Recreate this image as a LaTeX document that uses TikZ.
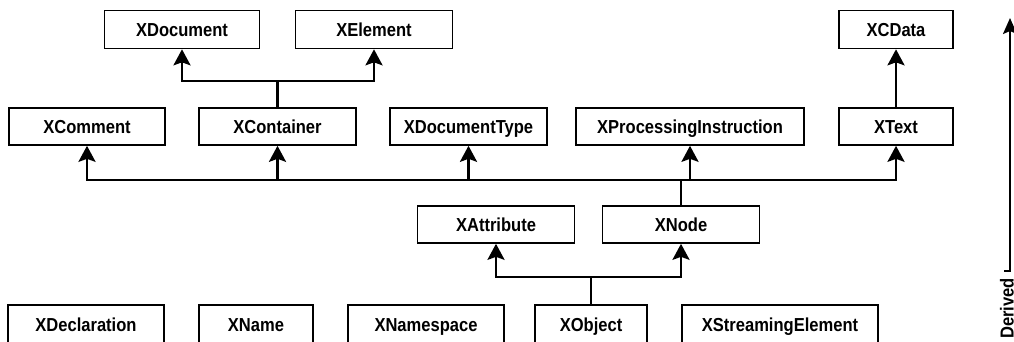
\documentclass[tikz,border=0pt]{standalone}
\usepackage{fontspec}
\setmainfont{Liberation Sans}
\newfontfamily\boxfont[FakeStretch=0.88]{Liberation Sans}
\usetikzlibrary{arrows.meta}

\begin{document}
\begin{tikzpicture}[x=1pt, y=-1pt]
    \tikzset{
        box/.style={draw, line width=1.6pt, minimum height=38pt, inner sep=0pt,
            text height=13.5pt, text depth=0pt, font=\boxfont\fontsize{18.8}{20}\selectfont\bfseries},
        link/.style={line width=2.6pt},
        arr/.style={link, -{Stealth[length=16pt, width=17pt, inset=3pt]}}
    }
    \useasboundingbox (0,0) rectangle (1014,341);
    % top row
    \node[box, minimum width=155pt] (doc) at (182,29.5) {XDocument};
    \node[box, minimum width=157pt] (elem) at (374,29.5) {XElement};
    \node[box, minimum width=114pt] (cdata) at (896,29.5) {XCData};
    % second row
    \node[box, minimum width=156pt, minimum height=37pt] (comment) at (87,126.5) {XComment};
    \node[box, minimum width=157pt, minimum height=37pt] (container) at (277.5,126.5) {XContainer};
    \node[box, minimum width=157pt, minimum height=37pt] (doctype) at (468.5,126.5) {XDocumentType};
    \node[box, minimum width=228pt, minimum height=37pt] (pi) at (690,126.5) {XProcessingInstruction};
    \node[box, minimum width=114pt, minimum height=37pt] (text) at (896,126.5) {XText};
    % third row
    \node[box, minimum width=157pt, minimum height=37pt] (attr) at (496,224.5) {XAttribute};
    \node[box, minimum width=157pt, minimum height=37pt] (xnode) at (681,224.5) {XNode};
    % bottom row
    \node[box, minimum width=156pt, minimum height=39pt, anchor=north] (decl) at (86,304) {XDeclaration};
    \node[box, minimum width=114pt, minimum height=39pt, anchor=north] (name) at (256,304) {XName};
    \node[box, minimum width=156pt, minimum height=39pt, anchor=north] (ns) at (426,304) {XNamespace};
    \node[box, minimum width=112pt, minimum height=39pt, anchor=north] (obj) at (591,304) {XObject};
    \node[box, minimum width=196pt, minimum height=39pt, anchor=north] (stream) at (780,304) {XStreamingElement};
    % joints
    \coordinate (j1) at (container.north |- 0,81);
    \coordinate (j2) at (xnode.north |- 0,180);
    \coordinate (j3) at (obj.north |- 0,277);
    \draw[link] (container.north) -- (j1);
    \draw[arr] (j1) -| (doc.south);
    \draw[arr] (j1) -| (elem.south);
    \draw[link] (xnode.north) -- (j2);
    \foreach \n in {comment,container,doctype,pi,text}{
        \draw[arr] (j2) -| (\n.south);
    }
    \draw[arr] (text.north) -- (cdata.south);
    \draw[link] (obj.north) -- (j3);
    \draw[arr] (j3) -| (attr.south);
    \draw[arr] (j3) -| (xnode.south);
    % direction of derivation
    \node[rotate=90, anchor=east, inner sep=0pt, font=\boxfont\fontsize{18.8}{20}\selectfont\bfseries] (derived) at (1007,278) {Derived};
    \coordinate (base) at (1010,18);
    \coordinate (foot) at (1004,271);
    \draw[line width=2pt, -{Stealth[length=16pt, width=14pt, inset=3pt]}] (foot) -- (base |- foot) -- (base);
\end{tikzpicture}
\end{document}
